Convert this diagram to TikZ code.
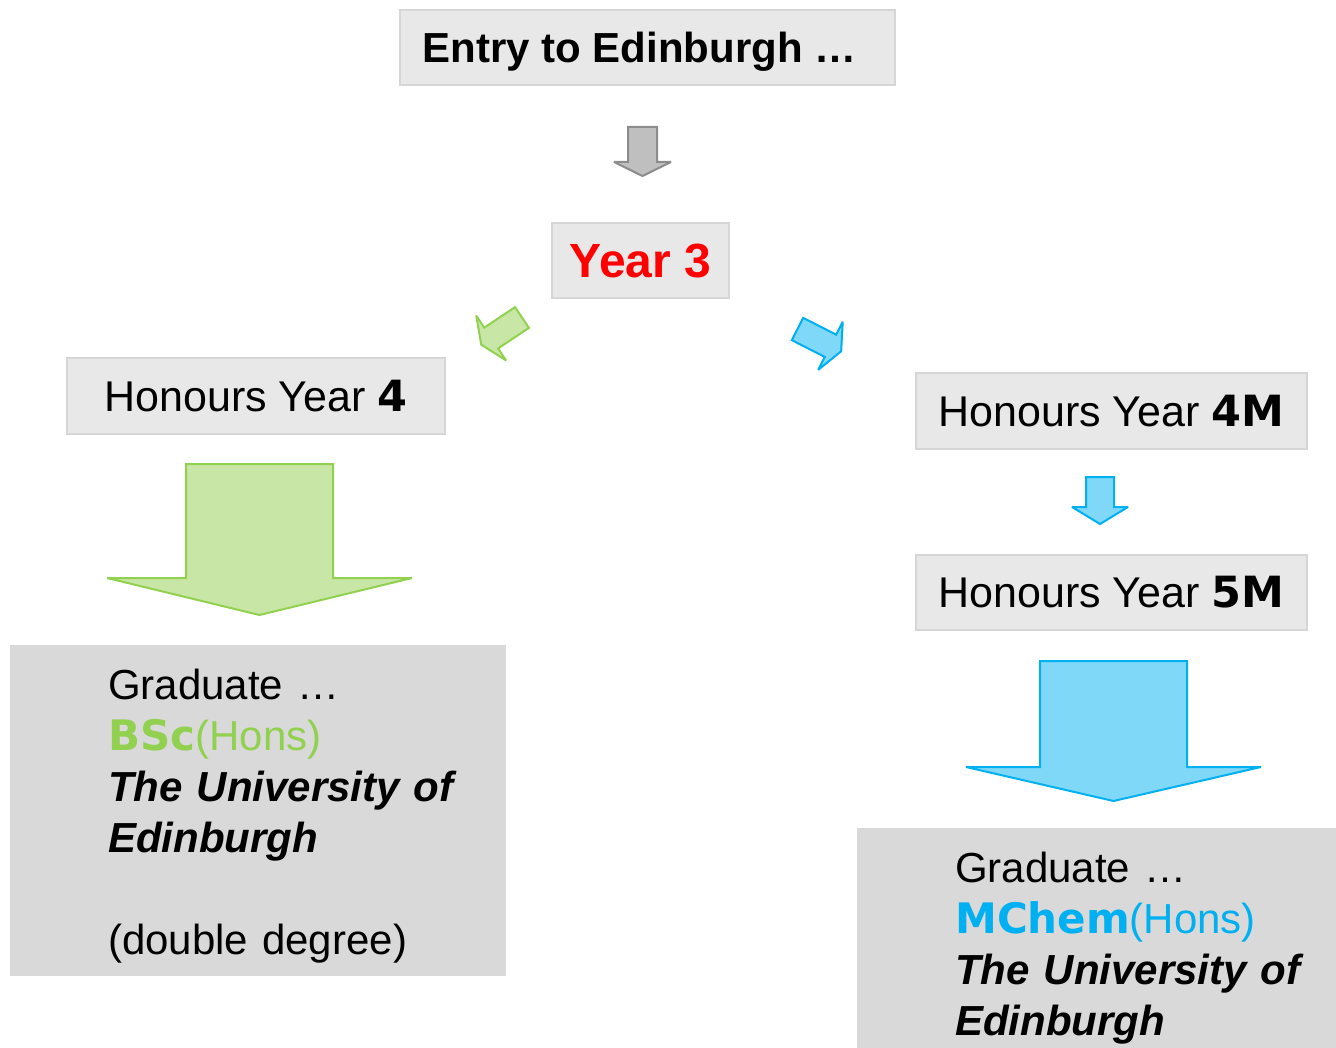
\documentclass[tikz,border=0pt]{standalone}
\usepackage{fontspec}
\setmainfont{Liberation Sans}
\newfontfamily\heavyfont{DejaVu Sans}
\definecolor{boxfill}{HTML}{E8E8E8}
\definecolor{boxline}{HTML}{D6D6D6}
\definecolor{gradfill}{HTML}{D9D9D9}
\definecolor{bscgreen}{HTML}{92D050}
\definecolor{greenfill}{HTML}{C8E6A6}
\definecolor{mchemblue}{HTML}{00B0F0}
\definecolor{bluefill}{HTML}{7FD8F7}
\definecolor{arrowgray}{HTML}{BFBFBF}
\definecolor{arrowline}{HTML}{8C8C8C}

\newcommand{\firstrow}{\rule{0pt}{47.7pt}}
\newcommand{\heavy}[1]{{\heavyfont\bfseries #1}}

\tikzset{
  stagebox/.style={draw=boxline, fill=boxfill, line width=2pt, minimum height=75pt,
    inner sep=0pt, text depth=0pt, font=\fontsize{43}{51}\selectfont},
  gradbox/.style={fill=gradfill, anchor=north west, inner xsep=0pt, inner ysep=6.5pt,
    text width=#1, align=left, font=\fontsize{42}{51}\selectfont},
  grayarrow/.style={fill=arrowgray, draw=arrowline, line width=2pt, miter limit=3},
  greenarrow/.style={fill=greenfill, draw=bscgreen, line width=2pt, miter limit=3},
  bluearrow/.style={fill=bluefill, draw=mchemblue, line width=2pt, miter limit=3},
  pics/blockarrow/.style n args={4}{code={
    \draw[pic actions] (-#1,0) -- (#1,0) -- (#1,#2) -- (#3,#2) -- (0,#2+#4)
      -- (-#3,#2) -- (-#1,#2) -- cycle;
  }}
}

\begin{document}
\begin{tikzpicture}[x=1pt, y=-1pt]
  \useasboundingbox (0,0) rectangle (1336,1048);

  % top of the tree
  \node[stagebox, minimum width=495pt, font=\fontsize{42}{51}\selectfont] (entry) at (647.5,47.5) {\textbf{Entry to Edinburgh …}\hspace*{16pt}};
  \pic[grayarrow] at (642.5,127) {blockarrow={14.5}{35}{28.5}{14}};
  \node[stagebox, minimum width=177pt, text=red, font=\fontsize{48}{51}\selectfont\bfseries] (year3) at (640.5,260.5) {Year 3};

  % split into the two routes
  \pic[greenarrow, rotate=-56.3] at (522,317.5) {blockarrow={12.5}{37}{27}{12}};
  \pic[bluearrow, rotate=63] at (797.5,329) {blockarrow={12.5}{37}{27}{12}};

  % BSc route
  \node[stagebox, minimum width=378pt] (hons4) at (256,396) {Honours Year \heavy{4}};
  \pic[greenarrow] at (259.5,464) {blockarrow={73.5}{114}{152.5}{37}};
  \node[gradbox=496pt] (bsc) at (10,645) {\hspace*{98pt}\begin{tabular}{@{}l@{}}
    \firstrow Graduate …\\
    \textcolor{bscgreen}{\heavy{BSc}(Hons)}\\
    \textbf{\textit{The University of}}\\
    \textbf{\textit{Edinburgh}}\\
    \\
    (double degree)
  \end{tabular}};

  % MChem route
  \node[stagebox, minimum width=391pt] (hons4m) at (1111.5,411) {Honours Year \heavy{4M}};
  \pic[bluearrow] at (1100,477) {blockarrow={14}{30}{28}{17}};
  \node[stagebox, minimum width=391pt] (hons5m) at (1111.5,592) {Honours Year \heavy{5M}};
  \pic[bluearrow] at (1113.5,661) {blockarrow={73.5}{106}{147.5}{34}};
  \node[gradbox=490pt] (mchem) at (857,828) {\hspace*{98pt}\begin{tabular}{@{}l@{}}
    \firstrow Graduate …\\
    \textcolor{mchemblue}{\heavy{MChem}(Hons)}\\
    \textbf{\textit{The University of}}\\
    \textbf{\textit{Edinburgh}}
  \end{tabular}};
\end{tikzpicture}
\end{document}
